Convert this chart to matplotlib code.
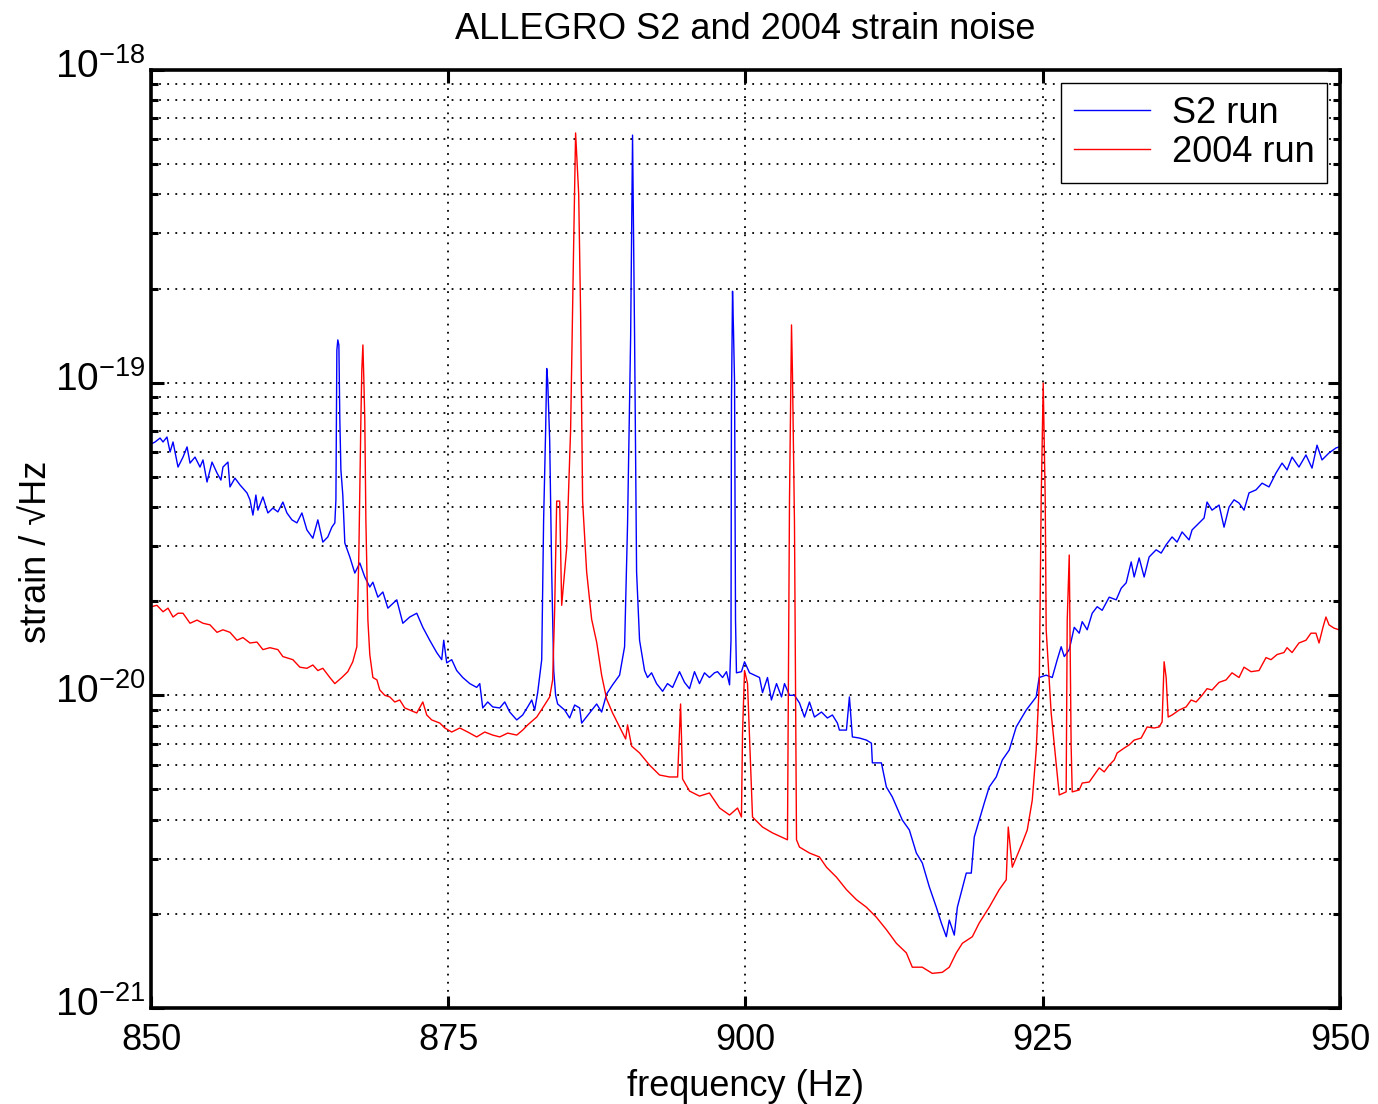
import matplotlib
matplotlib.use("Agg")
import matplotlib.pyplot as plt
import matplotlib.transforms as mtransforms
from matplotlib.ticker import NullFormatter
import numpy as np

plt.rcParams.update({
    "font.family": ["Liberation Sans", "DejaVu Sans"],
    "font.size": 26,
    "mathtext.default": "regular",
})

# strain values are in units of 1e-21 /sqrt(Hz)
s2_freq = [
    850.00, 850.34, 850.76, 851.01, 851.34, 851.60, 851.85, 852.27, 852.69, 853.03,
    853.28, 853.70, 854.12, 854.37, 854.71, 855.13, 855.55, 855.88, 856.05, 856.47,
    856.64, 857.06, 857.48, 858.07, 858.32, 858.57, 858.82, 858.99, 859.41, 859.83,
    860.25, 860.67, 861.09, 861.43, 861.85, 862.27, 862.69, 863.11, 863.61, 864.03,
    864.45, 864.87, 865.21, 865.46, 865.55, 865.63, 865.71, 865.80, 865.88, 865.97,
    866.13, 866.30, 866.72, 867.14, 867.56, 867.98, 868.40, 868.66, 869.08, 869.50,
    869.92, 870.67, 871.18, 871.76, 872.35, 872.86, 873.44, 874.03, 874.45, 874.62,
    874.87, 875.29, 875.71, 876.22, 876.81, 877.39, 877.65, 877.90, 878.32, 878.74,
    879.33, 879.75, 880.17, 880.76, 881.26, 881.68, 882.02, 882.27, 882.52, 882.86,
    883.02, 883.19, 883.28, 883.36, 883.53, 883.70, 883.87, 884.03, 884.20, 884.79,
    885.21, 885.63, 886.05, 886.22, 886.89, 887.48, 887.90, 888.32, 888.82, 889.41,
    889.83, 890.08, 890.34, 890.50, 890.67, 890.84, 891.09, 891.51, 891.76, 892.10,
    892.52, 893.03, 893.44, 893.87, 894.45, 894.87, 895.29, 895.71, 896.13, 896.55,
    896.97, 897.39, 897.65, 898.07, 898.40, 898.66, 898.78, 898.82, 898.91, 898.99,
    899.08, 899.16, 899.24, 899.66, 899.92, 900.34, 900.76, 901.18, 901.43, 901.85,
    902.18, 902.61, 903.03, 903.28, 903.70, 904.12, 904.54, 904.96, 905.38, 905.80,
    906.39, 906.89, 907.31, 907.73, 907.90, 908.49, 908.74, 908.99, 909.58, 910.17,
    910.59, 910.67, 911.43, 911.85, 912.35, 913.19, 913.78, 914.37, 914.87, 915.46,
    916.05, 916.47, 916.89, 917.14, 917.56, 917.82, 918.57, 918.99, 919.24, 919.66,
    920.08, 920.50, 921.09, 921.60, 922.18, 922.77, 923.61, 924.45, 924.70, 925.29,
    925.80, 926.22, 926.55, 926.81, 927.23, 927.65, 928.07, 928.32, 928.74, 929.16,
    929.58, 930.00, 930.59, 931.18, 931.60, 932.02, 932.44, 932.69, 933.11, 933.53,
    933.95, 934.54, 934.96, 935.38, 935.88, 936.30, 936.72, 937.31, 937.56, 938.15,
    938.57, 938.82, 939.24, 939.83, 940.25, 940.67, 941.09, 941.51, 941.93, 942.35,
    942.94, 943.45, 944.03, 944.62, 945.13, 945.55, 945.97, 946.55, 947.14, 947.65,
    948.07, 948.49, 949.08, 949.66, 949.92,
]
s2_strain = [
    63.6, 64.6, 66.5, 64.6, 67.0, 60.0, 64.6, 53.7, 57.8, 62.3,
    55.3, 57.8, 53.7, 56.6, 48.1, 55.7, 51.4, 48.8, 53.7, 55.7,
    46.4, 49.5, 47.1, 44.4, 42.2, 37.7, 43.7, 39.1, 43.1, 38.3,
    39.7, 38.6, 41.5, 38.3, 36.4, 35.6, 38.3, 33.8, 31.8, 36.4,
    30.9, 32.1, 34.5, 35.6, 42.2, 127, 137, 132, 75.9, 52.6,
    43.7, 30.7, 27.7, 24.6, 26.5, 23.9, 22.2, 23.0, 20.6, 21.4,
    19.0, 20.2, 17.0, 17.8, 18.3, 16.5, 15.0, 13.7, 13.0, 15.0,
    12.7, 13.0, 12.0, 11.4, 10.9, 10.6, 10.9, 9.11, 9.52, 9.18,
    9.11, 9.52, 8.84, 8.34, 8.65, 9.18, 9.66, 8.97, 10.2, 13.0,
    36.4, 70.5, 111, 102, 65.5, 24.8, 12.0, 10.0, 9.38, 8.97,
    8.46, 9.31, 9.11, 8.15, 8.78, 9.38, 8.84, 10.1, 10.8, 11.6,
    14.3, 35.3, 141, 619, 141, 24.8, 15.0, 12.0, 11.4, 11.8,
    10.9, 10.3, 10.9, 10.6, 11.9, 11.0, 10.5, 11.9, 10.9, 11.8,
    11.4, 11.8, 11.9, 11.4, 11.9, 10.8, 15.0, 87.9, 196, 147,
    99.7, 17.4, 11.8, 11.9, 12.8, 11.8, 11.6, 11.4, 10.2, 11.4,
    9.66, 10.9, 9.88, 10.9, 10.0, 10.0, 9.45, 8.52, 9.52, 8.52,
    8.84, 8.46, 8.65, 8.15, 7.74, 7.74, 9.88, 7.36, 7.30, 7.19,
    7.03, 6.08, 6.08, 5.09, 4.73, 3.99, 3.71, 3.13, 2.91, 2.44,
    2.10, 1.87, 1.69, 1.91, 1.71, 2.10, 2.70, 2.70, 3.52, 3.99,
    4.52, 5.09, 5.48, 6.21, 6.68, 7.92, 8.97, 9.88, 11.4, 11.6,
    11.4, 13.0, 14.3, 13.3, 14.0, 16.5, 15.8, 17.2, 16.2, 18.3,
    19.2, 18.7, 20.6, 20.2, 22.0, 22.9, 26.7, 23.9, 27.5, 23.9,
    27.7, 29.2, 28.5, 30.3, 32.1, 30.9, 33.3, 31.4, 33.8, 35.6,
    36.9, 41.5, 39.1, 40.6, 34.5, 40.0, 42.2, 41.2, 39.1, 44.4,
    45.4, 47.7, 46.4, 51.4, 55.3, 52.6, 57.8, 53.7, 58.7, 53.3,
    63.1, 56.6, 59.6, 61.8, 62.3,
]

run2004_freq = [
    850.00, 850.50, 851.01, 851.43, 851.85, 852.27, 852.69, 853.28, 853.87, 854.37,
    854.96, 855.55, 856.05, 856.64, 857.23, 857.73, 858.32, 858.91, 859.41, 860.00,
    860.67, 861.09, 861.93, 862.52, 863.11, 863.61, 864.03, 864.45, 865.04, 865.46,
    866.05, 866.55, 866.97, 867.31, 867.48, 867.65, 867.73, 867.82, 867.90, 867.98,
    868.07, 868.24, 868.40, 868.66, 869.00, 869.24, 869.66, 870.08, 870.50, 870.92,
    871.34, 871.76, 872.35, 872.86, 873.19, 873.61, 874.29, 874.71, 875.29, 875.97,
    876.64, 877.39, 878.07, 878.74, 879.33, 880.00, 880.76, 881.26, 881.68, 882.44,
    882.94, 883.53, 883.78, 883.95, 884.12, 884.37, 884.54, 884.96, 885.29, 885.55,
    885.71, 885.97, 886.13, 886.30, 886.64, 887.06, 887.48, 887.90, 888.32, 888.82,
    889.41, 889.92, 890.08, 890.42, 891.09, 891.93, 892.77, 893.61, 894.29, 894.54,
    894.71, 895.29, 896.13, 896.97, 897.82, 898.66, 899.33, 899.66, 899.75, 899.92,
    900.17, 900.59, 901.43, 902.27, 903.53, 903.70, 903.87, 903.95, 904.12, 904.29,
    904.54, 905.38, 906.22, 906.81, 907.65, 908.49, 909.33, 910.17, 911.01, 911.85,
    912.69, 913.53, 914.03, 914.87, 915.71, 916.55, 917.14, 917.73, 918.24, 919.08,
    919.66, 920.50, 921.34, 921.93, 922.10, 922.44, 923.28, 923.70, 924.12, 924.45,
    924.71, 924.87, 925.04, 925.21, 925.29, 925.71, 926.39, 926.97, 927.06, 927.23,
    927.39, 927.48, 928.07, 928.32, 928.91, 929.33, 929.75, 930.17, 930.59, 931.01,
    931.26, 931.85, 932.27, 932.69, 933.28, 933.78, 934.37, 934.79, 935.04, 935.13,
    935.21, 935.38, 935.55, 935.88, 936.47, 937.06, 937.48, 937.90, 938.40, 938.82,
    939.24, 939.83, 940.42, 940.92, 941.51, 941.93, 942.52, 943.19, 943.78, 944.20,
    944.71, 945.29, 945.55, 945.97, 946.55, 947.14, 947.56, 947.98, 948.24, 948.57,
    948.82, 949.08, 949.50, 949.92,
]
run2004_strain = [
    19.2, 19.4, 18.5, 19.0, 17.8, 18.3, 18.3, 17.0, 17.4, 17.0,
    16.8, 15.9, 16.2, 15.9, 15.0, 15.3, 14.7, 14.8, 14.0, 14.2,
    14.0, 13.3, 13.0, 12.3, 12.2, 12.5, 12.0, 12.2, 11.4, 10.9,
    11.4, 11.9, 12.8, 14.3, 28.5, 75.9, 110, 132, 102, 75.9,
    36.4, 17.4, 13.5, 11.4, 11.2, 10.4, 10.0, 9.88, 9.52, 9.66,
    9.11, 8.97, 8.78, 9.52, 8.65, 8.34, 8.15, 7.86, 7.63, 7.86,
    7.63, 7.36, 7.63, 7.46, 7.36, 7.57, 7.46, 7.74, 8.04, 8.52,
    9.11, 9.88, 11.2, 18.9, 41.8, 41.8, 19.4, 29.6, 70.5, 282,
    629, 401, 168, 41.8, 24.8, 17.5, 14.8, 11.6, 9.73, 8.78,
    7.92, 7.25, 8.04, 6.88, 6.54, 5.98, 5.56, 5.48, 5.48, 9.38,
    5.40, 4.94, 4.76, 4.87, 4.36, 4.14, 4.36, 4.08, 7.57, 12.0,
    10.9, 4.08, 3.79, 3.63, 3.45, 41.8, 153, 107, 35.3, 3.45,
    3.27, 3.13, 3.04, 2.82, 2.62, 2.39, 2.22, 2.10, 1.95, 1.78,
    1.61, 1.50, 1.35, 1.35, 1.29, 1.30, 1.35, 1.50, 1.61, 1.69,
    1.87, 2.10, 2.39, 2.57, 3.79, 2.82, 3.37, 3.71, 4.62, 6.68,
    10.9, 42.2, 99.7, 42.2, 16.2, 8.78, 4.80, 4.91, 17.4, 28.1,
    6.84, 4.91, 4.98, 5.24, 5.28, 5.56, 5.86, 5.69, 5.98, 6.21,
    6.54, 6.78, 6.94, 7.19, 7.30, 7.92, 7.86, 7.92, 8.22, 10.4,
    12.8, 11.4, 8.52, 8.65, 8.97, 9.18, 9.66, 9.52, 10.0, 10.5,
    10.4, 11.0, 11.2, 11.8, 11.4, 12.3, 11.9, 12.0, 13.2, 13.0,
    13.5, 13.7, 14.2, 13.7, 14.7, 15.0, 15.8, 15.8, 14.7, 16.5,
    17.8, 16.8, 16.4, 16.2,
]

freq_ticks = [850, 875, 900, 925, 950]
strain_ticks = [1e-21, 1e-20, 1e-19, 1e-18]

fig = plt.figure(figsize=(13.78, 11.04), dpi=100)
ax = fig.add_axes([0.1096, 0.0870, 0.8628, 0.8496])

ax.semilogy(s2_freq, np.array(s2_strain) * 1e-21, color=(0, 0, 1), lw=1.0, label="S2 run")
ax.semilogy(run2004_freq, np.array(run2004_strain) * 1e-21, color=(1, 0, 0), lw=1.0, label="2004 run")

ax.set_xlim(850, 950)
ax.set_ylim(1e-21, 1e-18)
ax.set_xticks(freq_ticks)
ax.set_xticklabels([str(t) for t in freq_ticks])
ax.set_yticks(strain_ticks)
ax.yaxis.set_minor_formatter(NullFormatter())

ax.grid(True, which="major", axis="both", color="black", linestyle=(0, (1, 3.5)), linewidth=1.3)
ax.grid(True, which="minor", axis="y", color="black", linestyle=(0, (1, 3.5)), linewidth=1.3)

for sp in ax.spines.values():
    sp.set_linewidth(2.6)
ax.tick_params(which="both", direction="in", top=True, right=True)
ax.tick_params(which="major", length=9, width=2.2)
ax.tick_params(which="minor", length=5, width=2.2)
ax.tick_params(axis="x", which="minor", bottom=False, top=False)
ax.tick_params(axis="x", pad=11, labelsize=26)
ax.tick_params(axis="y", pad=4, labelsize=28)

# lift the 10^n labels a little, like the original
lift = mtransforms.ScaledTranslation(0, 5 / 72, fig.dpi_scale_trans)
for lbl in ax.get_yticklabels():
    lbl.set_transform(lbl.get_transform() + lift)

ax.set_title("ALLEGRO S2 and 2004 strain noise", fontsize=26, pad=22)
ax.set_xlabel("frequency (Hz)", fontsize=26, labelpad=8)
ax.set_ylabel("strain / \u221aHz", fontsize=26)
ax.yaxis.set_label_coords(-0.082, 0.486)

leg = ax.legend(loc="upper right", fontsize=26, fancybox=False, framealpha=1,
                edgecolor="black", borderaxespad=0.36, borderpad=0.35,
                handlelength=2.1, handletextpad=0.6, labelspacing=0.12)
leg.get_frame().set_linewidth(1.0)

fig.savefig("out.png", dpi=100)
